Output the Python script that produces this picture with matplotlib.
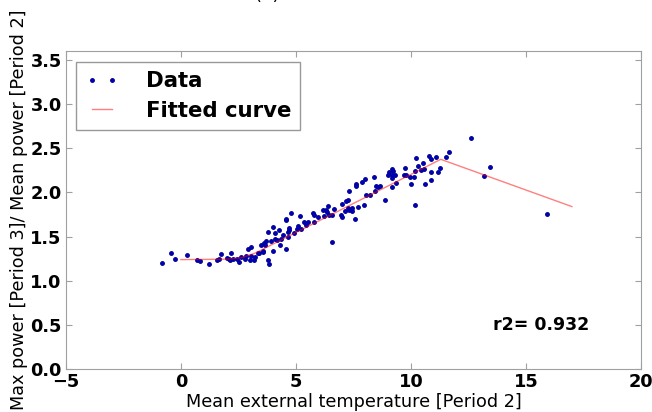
import matplotlib
matplotlib.use("Agg")
import matplotlib.pyplot as plt

# measured points: mean external temperature vs max/mean power ratio
temp = [-0.83, -0.41, -0.25, 0.26, 0.72, 0.83, 1.23, 1.57, 1.65, 1.74, 1.99, 2.10, 2.13, 2.19,
        2.28, 2.45, 2.51, 2.60, 2.77, 2.81, 2.91,
        3.01, 3.06, 3.07, 3.19, 3.23, 3.35, 3.41, 3.50, 3.55, 3.58, 3.60, 3.67, 3.71, 3.77, 3.77,
        3.81, 3.90, 3.99, 4.00, 4.09, 4.10, 4.19, 4.27, 4.29, 4.35, 4.45, 4.55, 4.59, 4.64, 4.67,
        4.70, 4.71, 4.94, 5.04, 5.09, 5.22, 5.36, 5.42, 5.54, 5.77,
        4.57, 4.80, 5.19, 5.73, 5.78, 5.94, 6.16, 6.23, 6.33, 6.36, 6.39, 6.43,
        6.55, 6.57, 6.65, 6.96, 6.99, 6.99, 7.12, 7.20, 7.27, 7.28, 7.30, 7.30, 7.42, 7.43,
        7.57, 7.60, 7.61, 7.70, 7.86, 7.94, 8.01, 8.06, 8.22, 8.38, 8.45, 8.50, 8.55, 8.65,
        8.87, 9.00, 9.06, 9.17, 9.23, 9.20, 9.30, 9.19, 9.17, 9.35, 9.70, 9.74, 9.78, 9.94,
        10.00, 10.14, 10.16, 10.19, 10.22, 10.32, 10.42, 10.51, 10.55, 10.61, 10.77, 10.86,
        10.87, 10.87, 11.10, 11.17, 11.25, 11.52, 11.67, 12.62, 13.16, 13.45, 15.93]
ratio = [1.20, 1.31, 1.25, 1.29, 1.235, 1.22, 1.19, 1.23, 1.25, 1.30, 1.26, 1.245, 1.23, 1.31,
         1.25, 1.25, 1.21, 1.27, 1.25, 1.28, 1.36,
         1.235, 1.28, 1.38, 1.24, 1.27, 1.31, 1.31, 1.41, 1.34, 1.325, 1.43, 1.40, 1.45, 1.55, 1.24,
         1.19, 1.45, 1.34, 1.61, 1.54, 1.47, 1.46, 1.57, 1.41, 1.47, 1.515, 1.69, 1.36, 1.55, 1.50,
         1.57, 1.60, 1.54, 1.59, 1.62, 1.59, 1.67, 1.63, 1.66, 1.67,
         1.705, 1.77, 1.73, 1.77, 1.745, 1.72, 1.80, 1.73, 1.80, 1.78, 1.845, 1.74,
         1.44, 1.75, 1.81, 1.74, 1.87, 1.72, 1.79, 1.90, 1.91, 1.82, 2.02, 1.80, 1.79, 1.82,
         1.70, 2.09, 2.07, 1.84, 2.12, 1.86, 2.15, 1.97, 1.97, 2.18, 2.02, 2.07, 2.06, 2.07,
         1.91, 2.20, 2.235, 2.26, 2.24, 2.20, 2.20, 2.16, 2.06, 2.11, 2.20, 2.28, 2.20, 2.18,
         2.09, 2.17, 1.86, 2.245, 2.39, 2.30, 2.25, 2.33, 2.27, 2.10, 2.41, 2.14,
         2.375, 2.23, 2.40, 2.235, 2.28, 2.40, 2.46, 2.62, 2.19, 2.29, 1.76]

# fitted piecewise curve, vertices
fit_t = [0.0, 1.0, 2.0, 2.6, 3.2, 11.3, 17.0]
fit_r = [1.24, 1.242, 1.245, 1.26, 1.31, 2.375, 1.84]

r2_text = "r2= 0.932"

fig = plt.figure(figsize=(6.52, 4.12), dpi=100)
ax = fig.add_axes([0.101, 0.104, 0.882, 0.772])

ax.plot(temp, ratio, ".", color="#0000d0", mec="#00009a", markersize=5, label="Data")
ax.plot(fit_t, fit_r, color="r", alpha=0.5, lw=1, label="Fitted curve")

ax.set_xlim(-5, 20)
ax.set_ylim(0, 3.6)
ax.set_xticks([-5, 0, 5, 10, 15, 20])
ax.set_yticks([0.0, 0.5, 1.0, 1.5, 2.0, 2.5, 3.0, 3.5])
ax.set_yticklabels(["0.0", "0.5", "1.0", "1.5", "2.0", "2.5", "3.0", "3.5"])

for s in ax.spines.values():
    s.set_color("#a0a0a0")
ax.tick_params(direction="in", top=True, right=True, length=4, color="#a0a0a0",
               labelsize=12.8, pad=3)
for lab in ax.get_xticklabels() + ax.get_yticklabels():
    lab.set_fontweight("bold")

ax.set_xlabel("Mean external temperature [Period 2]", fontsize=12.7, labelpad=1)
ax.set_ylabel("Max power [Period 3]/ Mean power [Period 2]", fontsize=12.7, labelpad=2)

ax.text(13.56, 0.5, r2_text, fontsize=12.5, fontweight="bold", va="center")

leg = ax.legend(loc="upper left", numpoints=2, handlelength=1.5, handletextpad=1.3,
                borderpad=0.45, labelspacing=0.45, fancybox=False,
                prop={"size": 15.3, "weight": "bold"})
leg.get_frame().set_edgecolor("#808080")

fig.text(267 / 652, 1 - 4 / 412, "(b)", ha="center", va="bottom", fontsize=13)

fig.savefig("out.png", dpi=100)
